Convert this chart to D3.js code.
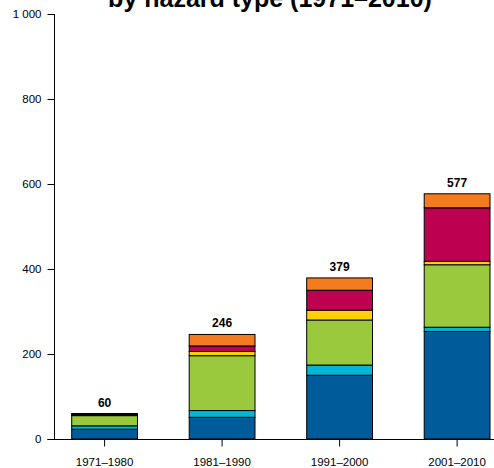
<!DOCTYPE html>
<html>
<head>
<meta charset="utf-8">
<script src="https://cdn.jsdelivr.net/npm/d3@7"></script>
<style>
  html, body { margin: 0; padding: 0; background: #fff; }
  svg { display: block; font-family: "Liberation Sans", Arial, Helvetica, sans-serif; }
</style>
</head>
<body>
<svg id="chart" width="494" height="468"></svg>
<script>
const decades = ["1971–1980", "1981–1990", "1991–2000", "2001–2010"];
const seriesNames = ["Flood", "Wet mass movement", "Storm", "Drought", "Extreme temperature", "Wildfire"];
const seriesColors = ["#005b9b", "#00b5d5", "#9bc93d", "#ffd100", "#bd0050", "#f47b20"];
const flood = [23, 51, 150, 253];
const wetMass = [8, 16, 24, 10];
const storm = [24, 129, 106, 147];
const drought = [1, 10, 23, 8];
const extremeTemp = [2, 13, 47, 126];
const wildfire = [2, 27, 29, 33];
const totals = [60, 246, 379, 577];
const yTicks = [0, 200, 400, 600, 800, 1000];

const seriesValues = [flood, wetMass, storm, drought, extremeTemp, wildfire];
const rows = decades.map((d, i) => {
  const r = { decade: d };
  seriesNames.forEach((s, j) => { r[s] = seriesValues[j][i]; });
  return r;
});

const svg = d3.select("#chart");

const x = d3.scaleBand().domain(decades).range([71.7, 490]).paddingInner(0.44).paddingOuter(0);
const y = d3.scaleLinear().domain([0, 1000]).range([439, 14]);

const stack = d3.stack().keys(seriesNames)(rows);

// bars
svg.append("g").selectAll("g").data(stack).join("g")
  .attr("fill", (d, i) => seriesColors[i])
  .selectAll("rect").data(d => d).join("rect")
  .attr("x", d => x(d.data.decade))
  .attr("width", x.bandwidth())
  .attr("y", d => y(d[1]))
  .attr("height", d => y(d[0]) - y(d[1]))
  .attr("stroke", "#000")
  .attr("stroke-width", 1);

// x axis baseline
svg.append("line")
  .attr("x1", 47.5).attr("x2", 494)
  .attr("y1", y(0) + 0.5).attr("y2", y(0) + 0.5)
  .attr("stroke", "#000").attr("stroke-width", 1);

// y axis
const fmt = v => v >= 1000 ? d3.format(",")(v).replace(",", " ") : String(v);
const yAxis = svg.append("g").attr("transform", "translate(54.5,0)")
  .call(d3.axisLeft(y).tickValues(yTicks).tickSize(7).tickPadding(6).tickFormat(fmt));
yAxis.select(".domain").attr("d", `M0,${y(1000)}V${y(0) + 0.5}`);
yAxis.selectAll("text").attr("font-size", 11.5).attr("font-family", "Liberation Sans, Arial, sans-serif").attr("fill", "#000");
yAxis.selectAll("line").attr("stroke", "#000");

// x axis
const xAxis = svg.append("g").attr("transform", `translate(0,${y(0) + 0.5})`)
  .call(d3.axisBottom(x).tickSize(7).tickPadding(11));
xAxis.select(".domain").remove();
xAxis.selectAll("text").attr("font-size", 11.5).attr("font-family", "Liberation Sans, Arial, sans-serif").attr("fill", "#000");
xAxis.selectAll("line").attr("stroke", "#000");

// totals
svg.append("g").selectAll("text").data(decades).join("text")
  .attr("x", d => x(d) + x.bandwidth() / 2)
  .attr("y", (d, i) => y(totals[i]) - 7)
  .attr("text-anchor", "middle")
  .attr("font-size", 12)
  .attr("font-weight", "bold")
  .text((d, i) => totals[i]);

// title (clipped at top, as in the reference)
svg.append("text")
  .attr("x", 270).attr("y", 7)
  .attr("text-anchor", "middle")
  .attr("font-size", 25)
  .attr("font-weight", "bold")
  .text("by hazard type (1971–2010)");
</script>
</body>
</html>
